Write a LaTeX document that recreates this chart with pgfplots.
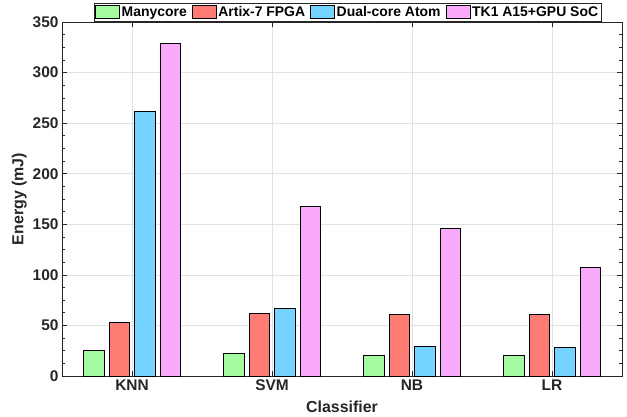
\documentclass[border=0pt]{standalone}
\usepackage{pgfplots}
\pgfplotsset{compat=1.18}
\usepackage{fontspec}
\setmainfont{Liberation Sans}
\definecolor{cgreen}{RGB}{166,250,160}
\definecolor{cred}{RGB}{255,124,116}
\definecolor{cblue}{RGB}{116,212,255}
\definecolor{cpink}{RGB}{250,170,250}
\definecolor{axgray}{RGB}{38,38,38}
\definecolor{gridgray}{RGB}{225,225,225}
\begin{document}
\begin{tikzpicture}
\begin{axis}[
  at={(0,0)}, anchor=south west,
  scale only axis, width=560bp, height=354bp,
  xmin=0.5, xmax=4.5, ymin=0, ymax=350,
  xtick={1,2,3,4}, xticklabels={KNN,SVM,NB,LR},
  ytick={0,50,...,350}, minor ytick={12.5,25,...,337.5},
  tick align=inside, major tick length=5bp, minor tick length=3bp,
  xtick pos=both, ytick pos=both,
  grid=major, major grid style={gridgray, line width=0.6bp},
  axis line style={axgray, line width=0.6bp},
  every tick/.style={axgray, line width=0.6bp},
  every minor tick/.style={axgray, line width=0.6bp},
  tick label style={font=\fontsize{15.5}{17}\selectfont\bfseries, text=axgray},
  /pgf/number format/assume math mode=true,
  xlabel={Classifier}, ylabel={Energy (mJ)},
  every axis x label/.style={at={(axis description cs:0.5,0)}, anchor=base, yshift=-36bp, font=\fontsize{16}{18}\selectfont\bfseries, text=axgray},
  every axis y label/.style={at={(axis description cs:-0.0625,0.5)}, rotate=90, anchor=south, inner sep=0pt, font=\fontsize{16}{18}\selectfont\bfseries, text=axgray},
  bar width=0.146,
  legend columns=4,
  legend style={at={(axis description cs:0.51,1)}, anchor=south, yshift=0.5bp, draw=axgray, line width=0.6bp,
    font=\fontsize{14}{16}\selectfont\bfseries, inner sep=1.2bp,
    /tikz/every even column/.append style={column sep=3bp}},
  legend image code/.code={\draw[#1, draw=black, line width=0.6bp] (0bp,-6bp) rectangle (24bp,6.5bp);},
]
\addplot[ybar, bar shift=-0.272, fill=cgreen, draw=black, line width=0.6bp] coordinates {(1,25) (2,22) (3,20) (4,20)};
\addlegendentry{Manycore}
\addplot[ybar, bar shift=-0.091, fill=cred, draw=black, line width=0.6bp] coordinates {(1,53) (2,61.5) (3,61) (4,61)};
\addlegendentry{Artix-7 FPGA}
\addplot[ybar, bar shift=0.091, fill=cblue, draw=black, line width=0.6bp] coordinates {(1,262) (2,66.5) (3,29) (4,28.5)};
\addlegendentry{Dual-core Atom}
\addplot[ybar, bar shift=0.272, fill=cpink, draw=black, line width=0.6bp] coordinates {(1,329) (2,168) (3,146) (4,107)};
\addlegendentry{TK1 A15+GPU SoC}
\end{axis}
\path[use as bounding box] (-62bp,-41bp) rectangle (565bp,376bp);
\end{tikzpicture}
\end{document}
